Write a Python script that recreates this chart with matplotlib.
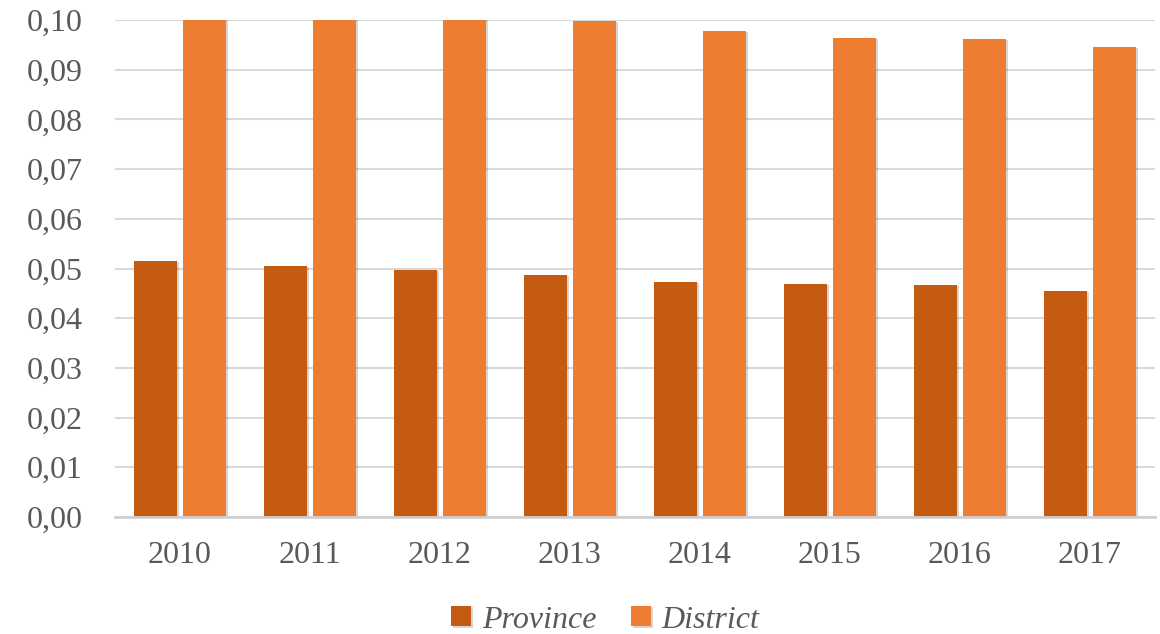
import matplotlib.pyplot as plt
import matplotlib.patheffects as pe
import numpy as np

years = ['2010', '2011', '2012', '2013', '2014', '2015', '2016', '2017']
province = [0.0515, 0.0505, 0.0497, 0.0487, 0.0473, 0.0469, 0.0467, 0.0455]
district = [0.1010, 0.1010, 0.1010, 0.0998, 0.0978, 0.0964, 0.0962, 0.0946]

plt.rcParams['font.family'] = ['Liberation Serif', 'DejaVu Serif']

fig = plt.figure(figsize=(11.6, 6.34), dpi=100)
ax = fig.add_axes([115 / 1160, 1 - 517 / 634, 1040 / 1160, 497 / 634])

x = np.arange(len(years))
shadow = [pe.SimplePatchShadow(offset=(1.5, -1), shadow_rgbFace='#000000', alpha=0.16), pe.Normal()]
b1 = ax.bar(x - 0.19, province, width=0.33, color='#C55A11', label='Province', zorder=3)
b2 = ax.bar(x + 0.19, district, width=0.33, color='#ED7D31', label='District', zorder=3)
for b in list(b1) + list(b2):
    b.set_path_effects(shadow)

ax.set_xlim(-0.5, len(years) - 0.5)
ax.set_ylim(0, 0.10)
ticks = np.arange(0, 0.101, 0.01)
ax.set_yticks(ticks)
ax.set_yticklabels([('%.2f' % v).replace('.', ',') for v in ticks])
ax.set_xticks(x)
ax.set_xticklabels(years)
ax.tick_params(axis='both', length=0, labelsize=23, labelcolor='#595959')
ax.tick_params(axis='x', pad=17)
ax.tick_params(axis='y', pad=23)
ax.grid(axis='y', color='#D9D9D9', linewidth=1.5, zorder=0)
for s in ['top', 'right', 'left']:
    ax.spines[s].set_visible(False)
ax.spines['bottom'].set_color('#D0D0D0')
ax.spines['bottom'].set_linewidth(2)
ax.spines['bottom'].set_zorder(4)

leg = fig.legend(handles=[b1, b2], loc='center', bbox_to_anchor=(0.522, 1 - 620 / 634), ncol=2,
                 frameon=False, prop={'style': 'italic', 'size': 23}, handlelength=0.6,
                 handleheight=0.6, handletextpad=0.35, columnspacing=1.1)
for t in leg.get_texts():
    t.set_color('#595959')

fig.savefig('out.png', dpi=100)
